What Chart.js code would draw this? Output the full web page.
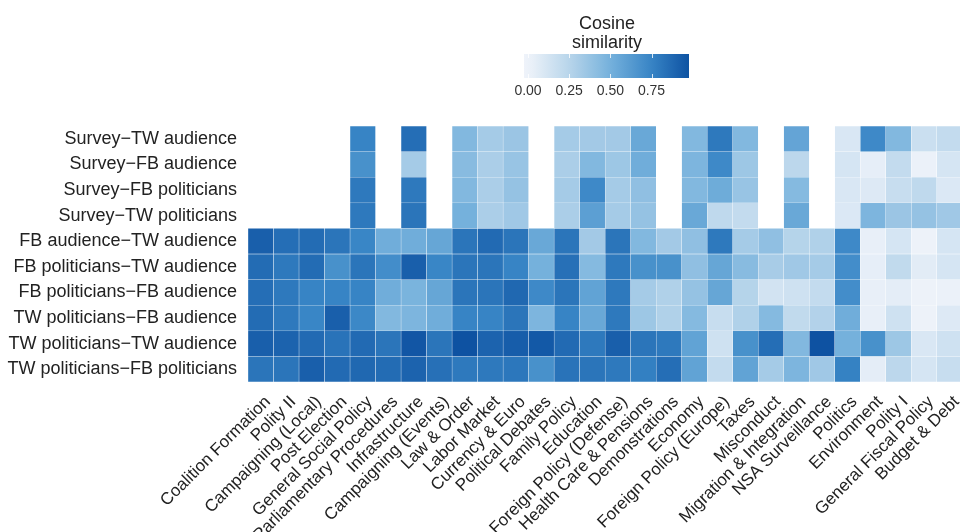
<!DOCTYPE html>
<html>
<head>
<meta charset="utf-8">
<script src="https://cdn.jsdelivr.net/npm/chart.js@4.4.1/dist/chart.umd.min.js"></script>
<style>
  html, body { margin: 0; padding: 0; background: #fff; overflow: hidden; }
  #wrap { width: 966px; height: 532px; }
</style>
</head>
<body>
<div id="wrap"><canvas id="heat" width="966" height="532"></canvas></div>
<script>
const topics = [
  'Coalition Formation', 'Polity II', 'Campaigning (Local)', 'Post Election',
  'General Social Policy', 'Parliamentary Procedures', 'Infrastructure',
  'Campaigning (Events)', 'Law & Order', 'Labor Market', 'Currency & Euro',
  'Political Debates', 'Family Policy', 'Education', 'Foreign Policy (Defense)',
  'Health Care & Pensions', 'Demonstrations', 'Economy', 'Foreign Policy (Europe)',
  'Taxes', 'Misconduct', 'Migration & Integration', 'NSA Surveillance',
  'Politics', 'Environment', 'Polity I', 'General Fiscal Policy', 'Budget & Debt'
];

const pairs = [
  'Survey\u2212TW audience',
  'Survey\u2212FB audience',
  'Survey\u2212FB politicians',
  'Survey\u2212TW politicians',
  'FB audience\u2212TW audience',
  'FB politicians\u2212TW audience',
  'FB politicians\u2212FB audience',
  'TW politicians\u2212FB audience',
  'TW politicians\u2212TW audience',
  'TW politicians\u2212FB politicians'
];

// one row of cosine similarities per pair, in topic order (null = no value)
const surveyTwAudience = [null, null, null, null, .75, null, .85, null, .45, .32, .36, null, .32, .33, .33, .55, null, .45, .80, .45, null, .57, null, .10, .72, .45, .17, .20];
const surveyFbAudience = [null, null, null, null, .68, null, .32, null, .43, .30, .37, null, .30, .45, .35, .52, null, .47, .72, .35, null, .23, null, .12, .04, .20, .02, .12];
const surveyFbPoliticians = [null, null, null, null, .80, null, .80, null, .45, .30, .38, null, .32, .72, .32, .40, null, .45, .53, .37, null, .44, null, .10, .08, .18, .22, .09];
const surveyTwPoliticians = [null, null, null, null, .80, null, .82, null, .50, .30, .34, null, .30, .60, .32, .38, null, .55, .22, .20, null, .55, null, .09, .47, .36, .38, .34];
const fbAudTwAud = [.92, .85, .86, .82, .74, .52, .52, .56, .82, .87, .82, .55, .82, .33, .82, .45, .33, .40, .80, .32, .40, .26, .28, .72, .03, .12, .01, .12];
const fbPolTwAud = [.86, .80, .86, .68, .82, .70, .92, .74, .82, .82, .75, .50, .84, .44, .80, .68, .68, .40, .56, .43, .31, .34, .32, .70, .04, .21, .06, .12];
const fbPolFbAud = [.85, .80, .75, .75, .75, .52, .48, .56, .82, .82, .88, .72, .82, .58, .80, .32, .28, .38, .56, .26, .13, .15, .20, .70, .03, .05, .01, .02];
const twPolFbAud = [.86, .80, .74, .92, .73, .45, .47, .52, .75, .75, .82, .47, .75, .55, .80, .35, .28, .44, .18, .28, .44, .21, .27, .52, .03, .15, .01, .08];
const twPolTwAud = [.92, .90, .87, .83, .87, .82, .96, .82, .98, .90, .93, .95, .87, .80, .92, .82, .80, .58, .15, .68, .85, .45, .98, .50, .68, .35, .10, .15];
const twPolFbPol = [.82, .82, .92, .87, .88, .86, .90, .84, .80, .80, .81, .68, .83, .82, .80, .77, .85, .58, .20, .58, .32, .47, .34, .76, .05, .23, .12, .18];

const similarity = [
  surveyTwAudience, surveyFbAudience, surveyFbPoliticians, surveyTwPoliticians,
  fbAudTwAud, fbPolTwAud, fbPolFbAud, twPolFbAud, twPolTwAud, twPolFbPol
];

const legendTicks = [0, 0.25, 0.5, 0.75];

// blue gradient, roughly the one in the colour bar
const stops = [
  [0.00, [239, 243, 250]],
  [0.25, [184, 213, 235]],
  [0.50, [117, 177, 220]],
  [0.75, [55, 132, 197]],
  [0.98, [14, 82, 162]]
];

function colorFor(v) {
  if (v == null) return 'rgba(0,0,0,0)';
  if (v <= stops[0][0]) return 'rgb(' + stops[0][1].join(',') + ')';
  for (let i = 1; i < stops.length; i++) {
    if (v <= stops[i][0]) {
      const [a, ca] = stops[i - 1], [b, cb] = stops[i];
      const t = (v - a) / (b - a);
      const c = ca.map((x, k) => Math.round(x + (cb[k] - x) * t));
      return 'rgb(' + c.join(',') + ')';
    }
  }
  return 'rgb(' + stops[stops.length - 1][1].join(',') + ')';
}

const FONT = '"Liberation Sans", Arial, sans-serif';

const datasets = similarity.map((row, r) => ({
  label: pairs[r],
  data: row.map(v => v == null ? null : [r - 0.5, r + 0.5]),
  backgroundColor: (ctx) => colorFor(row[ctx.dataIndex]),
  borderColor: 'rgba(255,255,255,0.3)',
  borderWidth: 0.5,
  borderSkipped: false,
  barPercentage: 1,
  categoryPercentage: 1,
  grouped: false
}));

// colour bar legend, drawn on top of the chart
const colorBar = {
  id: 'colorBar',
  afterDraw(chart) {
    const ctx = chart.ctx;
    const x0 = 524, x1 = 689, y0 = 54, y1 = 78;
    const zeroX = 528, unit = 164.7;
    const lo = (x0 - zeroX) / unit, hi = (x1 - zeroX) / unit;
    ctx.save();
    const grad = ctx.createLinearGradient(x0, 0, x1, 0);
    for (let t = 0; t <= 20; t++) {
      grad.addColorStop(t / 20, colorFor(lo + (hi - lo) * t / 20));
    }
    ctx.fillStyle = grad;
    ctx.fillRect(x0, y0, x1 - x0, y1 - y0);

    ctx.strokeStyle = 'rgba(255,255,255,0.8)';
    ctx.lineWidth = 1;
    legendTicks.forEach(v => {
      const x = Math.round(zeroX + v * unit) + 0.5;
      ctx.beginPath();
      ctx.moveTo(x, y0); ctx.lineTo(x, y0 + 4);
      ctx.moveTo(x, y1 - 4); ctx.lineTo(x, y1);
      ctx.stroke();
    });

    ctx.fillStyle = '#333';
    ctx.font = '14px ' + FONT;
    ctx.textAlign = 'center';
    ctx.textBaseline = 'alphabetic';
    legendTicks.forEach(v => {
      ctx.fillText(v.toFixed(2), zeroX + v * unit, 95);
    });

    ctx.fillStyle = '#222';
    ctx.font = '18px ' + FONT;
    ctx.fillText('Cosine', 607, 29);
    ctx.fillText('similarity', 607, 48);
    ctx.restore();
  }
};

new Chart(document.getElementById('heat'), {
  type: 'bar',
  data: { labels: topics, datasets: datasets },
  options: {
    responsive: false,
    animation: false,
    layout: { padding: { top: 126, right: 1, bottom: 0, left: 0 } },
    plugins: {
      legend: { display: false },
      tooltip: { enabled: false }
    },
    scales: {
      x: {
        type: 'category',
        offset: true,
        grid: { display: false },
        border: { display: false },
        ticks: {
          autoSkip: false,
          maxRotation: 45,
          minRotation: 45,
          padding: 2,
          labelOffset: 7,
          color: '#222',
          font: { size: 17, family: FONT }
        },
        afterFit(axis) { axis.height = 150; }
      },
      y: {
        type: 'linear',
        min: -0.5,
        max: 9.5,
        reverse: true,
        grid: { display: false },
        border: { display: false },
        afterBuildTicks(axis) {
          axis.ticks = pairs.map((p, i) => ({ value: i }));
        },
        afterFit(axis) { axis.width = 248; },
        ticks: {
          autoSkip: false,
          padding: 3,
          color: '#222',
          font: { size: 18, family: FONT },
          callback: (v) => pairs[v]
        }
      }
    }
  },
  plugins: [colorBar]
});
</script>
</body>
</html>
